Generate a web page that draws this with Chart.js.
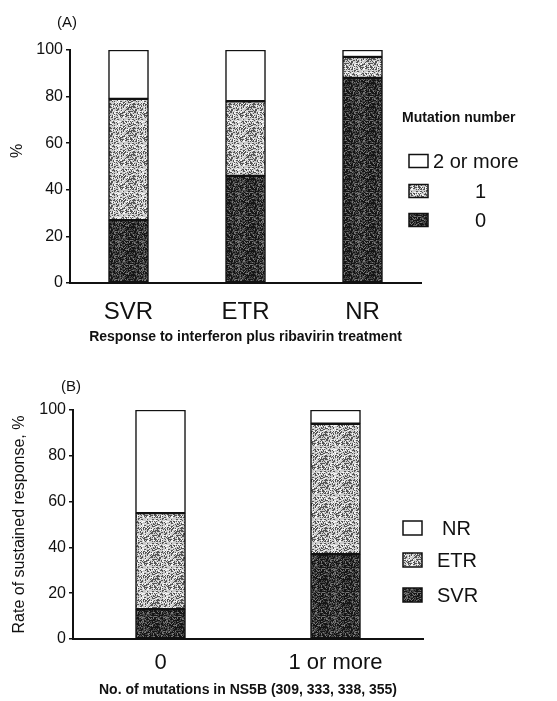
<!DOCTYPE html>
<html>
<head>
<meta charset="utf-8">
<script src="https://cdn.jsdelivr.net/npm/chart.js@4/dist/chart.umd.min.js"></script>
<style>
    body { margin: 0; background: #fff; width: 557px; height: 701px; position: relative; overflow: hidden; font-family: "Liberation Sans", Arial, sans-serif; }
    .painel { position: absolute; left: 0; width: 557px; }
    .letra { position: absolute; font-size: 15px; color: #111; }
</style>
</head>
<body>
<div class="painel" style="top:0;height:352px"><canvas id="graficoA" width="557" height="352"></canvas></div>
<div class="painel" style="top:352px;height:349px"><canvas id="graficoB" width="557" height="349"></canvas></div>
<span class="letra" style="left:57px;top:13px">(A)</span>
<span class="letra" style="left:61px;top:377px">(B)</span>
<script>
// painel A
const respostas = ['SVR', 'ETR', 'NR'];
const mutacaoZero = [27, 46, 88];
const mutacaoUma = [52, 32, 9];
const mutacaoDuasOuMais = [21, 22, 3];

// painel B
const numMutacoes = ['0', '1 or more'];
const taxaSVR = [13, 37];
const taxaETR = [42, 57];
const taxaNR = [45, 6];

const ticksY = [0, 20, 40, 60, 80, 100];

const fonte = '"Liberation Sans", Arial, sans-serif';

// textura pontilhada (deterministica)
function criarTextura(fundo, claro, escuro, limite) {
    const c = document.createElement('canvas');
    c.width = 24; c.height = 24;
    const ctx = c.getContext('2d');
    ctx.fillStyle = fundo;
    ctx.fillRect(0, 0, 24, 24);
    let s = 12345;
    for (let y = 0; y < 24; y++) {
        for (let x = 0; x < 24; x++) {
            s = (s * 1103515245 + 12345) & 0x7fffffff;
            const v = (s >> 8) % 100;
            if (v < limite) { ctx.fillStyle = escuro; ctx.fillRect(x, y, 1, 1); }
            else if (v > 80) { ctx.fillStyle = claro; ctx.fillRect(x, y, 1, 1); }
        }
    }
    return ctx.createPattern(c, 'repeat');
}
const texturaEscura = criarTextura('#444444', '#777777', '#151515', 42);
const texturaClara = criarTextura('#cccccc', '#f6f6f6', '#555555', 30);

const legendaLateral = {
    id: 'legendaLateral',
    afterDraw(chart, args, opts) {
        const ctx = chart.ctx;
        ctx.save();
        if (opts.titulo) {
            ctx.font = 'bold 14px ' + fonte;
            ctx.fillStyle = '#111';
            ctx.textBaseline = 'middle';
            ctx.textAlign = 'left';
            ctx.fillText(opts.titulo, opts.tituloX, opts.tituloY);
        }
        const ds = chart.data.datasets.slice().reverse();
        ds.forEach((d, i) => {
            const y = opts.y[i];
            ctx.fillStyle = d.backgroundColor;
            ctx.fillRect(opts.x, y - opts.h / 2, opts.w, opts.h);
            ctx.strokeStyle = '#111';
            ctx.lineWidth = 1.5;
            ctx.strokeRect(opts.x, y - opts.h / 2, opts.w, opts.h);
            ctx.font = opts.tamanho + 'px ' + fonte;
            ctx.fillStyle = '#111';
            ctx.textBaseline = 'middle';
            ctx.textAlign = 'left';
            ctx.fillText(d.label, opts.textoX[i], y + 1);
        });
        ctx.restore();
    }
};

function opcoesEscalas(larguraY, alturaX, tituloX, tituloY, tamX, padTituloX, padTituloY, padTicksX) {
    return {
        x: {
            stacked: true,
            grid: { display: false },
            border: { display: true, color: '#111', width: 2 },
            ticks: { color: '#111', font: { family: fonte, size: tamX }, padding: padTicksX, maxRotation: 0 },
            title: { display: true, text: tituloX, color: '#111', font: { family: fonte, size: 14, weight: 'bold' }, padding: { top: 0, bottom: padTituloX } },
            afterFit: s => { s.height = alturaX; }
        },
        y: {
            stacked: true,
            min: 0,
            max: 100,
            afterBuildTicks: s => { s.ticks = ticksY.map(v => ({ value: v })); },
            grid: { display: true, drawOnChartArea: false, drawTicks: true, tickLength: 4, color: '#111', lineWidth: 1.5 },
            border: { display: true, color: '#111', width: 2 },
            ticks: { color: '#111', font: { family: fonte, size: 16 }, padding: 3 },
            title: { display: true, text: tituloY, color: '#111', font: { family: fonte, size: 16 }, padding: { top: padTituloY, bottom: 0 } },
            afterFit: s => { s.width = larguraY; }
        }
    };
}

function conjunto(label, dados, cor, espessura) {
    return {
        label: label,
        data: dados,
        backgroundColor: cor,
        borderColor: '#111',
        borderWidth: 1.5,
        borderSkipped: false,
        barThickness: espessura
    };
}

new Chart(document.getElementById('graficoA'), {
    type: 'bar',
    data: {
        labels: respostas,
        datasets: [
            conjunto('0', mutacaoZero, texturaEscura, 40),
            conjunto('1', mutacaoUma, texturaClara, 40),
            conjunto('2 or more', mutacaoDuasOuMais, '#ffffff', 40)
        ]
    },
    options: {
        responsive: false,
        animation: false,
        layout: { padding: { left: 0, top: 50, right: 136, bottom: 0 } },
        // espacos antes do % para subir o rotulo como no original
        scales: opcoesEscalas(70, 69, 'Response to interferon plus ribavirin treatment', '\u00a0\u00a0\u00a0\u00a0\u00a0\u00a0\u00a0%', 24, 6, 8, 7),
        plugins: {
            legend: { display: false },
            tooltip: { enabled: false },
            legendaLateral: {
                titulo: 'Mutation number', tituloX: 402, tituloY: 118,
                x: 409, w: 19, h: 13, y: [161, 191, 220], textoX: [433, 475, 475], tamanho: 20
            }
        }
    },
    plugins: [legendaLateral]
});

new Chart(document.getElementById('graficoB'), {
    type: 'bar',
    data: {
        labels: numMutacoes,
        datasets: [
            conjunto('SVR', taxaSVR, texturaEscura, 50),
            conjunto('ETR', taxaETR, texturaClara, 50),
            conjunto('NR', taxaNR, '#ffffff', 50)
        ]
    },
    options: {
        responsive: false,
        animation: false,
        layout: { padding: { left: 0, top: 58, right: 134, bottom: 0 } },
        scales: opcoesEscalas(73, 62, 'No. of mutations in NS5B (309, 333, 338, 355)', 'Rate of sustained response, %', 22, 2, 10, 3),
        plugins: {
            legend: { display: false },
            tooltip: { enabled: false },
            legendaLateral: {
                x: 403, w: 19, h: 14, y: [176, 208, 243], textoX: [442, 437, 437], tamanho: 20
            }
        }
    },
    plugins: [legendaLateral]
});
</script>
</body>
</html>
